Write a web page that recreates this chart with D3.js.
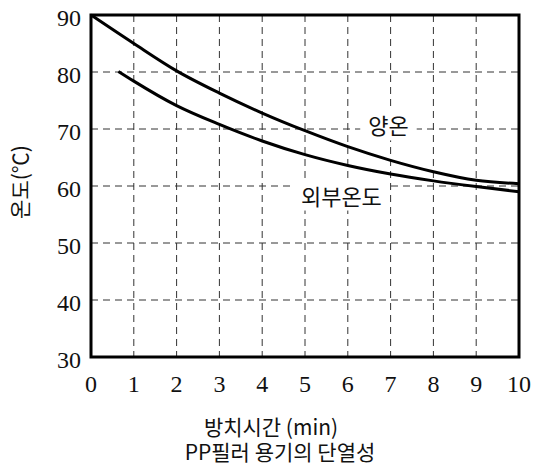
<!DOCTYPE html>
<html>
<head>
<meta charset="utf-8">
<script src="https://cdn.jsdelivr.net/npm/d3@7"></script>
<style>
  body { margin: 0; background: #fff; }
  .chart__line { fill: none; stroke: #000; stroke-width: 3px; }
  .chart__line--grid { stroke: #333; stroke-width: 1px; stroke-dasharray: 7 5; }
  .chart__frame { fill: none; stroke: #000; stroke-width: 3px; }
  .chart__tick { font-family: "Liberation Serif", "DejaVu Serif", serif; font-size: 24px; fill: #111; }
</style>
</head>
<body>
<div id="chart"></div>
<script>
// Time axis (min)
const xTicks = [0, 1, 2, 3, 4, 5, 6, 7, 8, 9, 10];
// Temperature axis (℃)
const yTicks = [30, 40, 50, 60, 70, 80, 90];

// 양온 curve
const innerTime = [0, 1, 2, 3, 4, 5, 6, 7, 8, 9, 10];
const innerTemp = [90, 85.0, 80.2, 76.3, 72.8, 69.7, 66.9, 64.5, 62.5, 61.0, 60.4];

// 외부온도 curve
const outerTime = [0.64, 1, 2, 3, 4, 5, 6, 7, 8, 9, 10];
const outerTemp = [80.1, 78.4, 74.1, 70.8, 67.9, 65.5, 63.6, 62.1, 60.9, 59.9, 59.0];

// Texts
const curveLabels = [
  { text: "양온", x: 6.95, y: 70.4 },
  { text: "외부온도", x: 5.85, y: 58.1 }
];
const xTitle = "방치시간 (min)";
const caption = "PP필러 용기의 단열성";
const yTitle = "온도(℃)";

const korean = "Noto Sans CJK KR";

/**
 * Dimensions
 */
const w = 542, h = 473;
const margin = { top: 15, right: 23, bottom: 116, left: 91 };
const width = w - margin.left - margin.right;
const height = h - margin.top - margin.bottom;

const svg = d3.select("#chart")
  .append("svg")
  .attr("width", w)
  .attr("height", h);

const g = svg.append("g")
  .attr("transform", "translate(" + margin.left + "," + margin.top + ")");

// Scales
const x = d3.scaleLinear().domain([0, 10]).range([0, width]);
const y = d3.scaleLinear().domain([30, 90]).range([height, 0]);

// Grid lines
g.selectAll(".grid-x")
  .data(xTicks.slice(1, -1))
  .enter()
  .append("line")
  .attr("class", "chart__line--grid")
  .attr("x1", d => x(d)).attr("x2", d => x(d))
  .attr("y1", 0).attr("y2", height);

g.selectAll(".grid-y")
  .data(yTicks.slice(1, -1))
  .enter()
  .append("line")
  .attr("class", "chart__line--grid")
  .attr("x1", 0).attr("x2", width)
  .attr("y1", d => y(d)).attr("y2", d => y(d));

// Tick labels, drawn from the scales
g.selectAll(".tick-x")
  .data(xTicks)
  .enter()
  .append("text")
  .attr("class", "chart__tick")
  .attr("text-anchor", "middle")
  .attr("x", d => x(d))
  .attr("y", height + 35)
  .text(d => d);

g.selectAll(".tick-y")
  .data(yTicks)
  .enter()
  .append("text")
  .attr("class", "chart__tick")
  .attr("text-anchor", "end")
  .attr("x", -10)
  .attr("y", d => y(d))
  .attr("dy", "0.46em")
  .text(d => d);

// Curve labels with white backing to break the grid
const labels = g.selectAll(".curve-label")
  .data(curveLabels)
  .enter()
  .append("g")
  .attr("transform", d => "translate(" + x(d.x) + "," + y(d.y) + ")");

labels.append("text")
  .attr("font-family", korean)
  .attr("font-size", 22)
  .attr("fill", "#111")
  .attr("text-anchor", "middle")
  .attr("dy", "0.35em")
  .text(d => d.text)
  .each(function () {
    const b = this.getBBox();
    d3.select(this.parentNode).insert("rect", "text")
      .attr("x", b.x - 8).attr("y", b.y)
      .attr("width", b.width + 16).attr("height", b.height)
      .attr("fill", "#fff");
  });

// Curves
const line = d3.line()
  .x(d => x(d[0]))
  .y(d => y(d[1]))
  .curve(d3.curveMonotoneX);

g.append("path")
  .attr("class", "chart__line")
  .attr("d", line(d3.zip(innerTime, innerTemp)));

g.append("path")
  .attr("class", "chart__line")
  .attr("d", line(d3.zip(outerTime, outerTemp)));

// Frame
g.append("rect")
  .attr("class", "chart__frame")
  .attr("width", width)
  .attr("height", height);

// Axis titles
const titles = [
  { text: xTitle, x: 271, y: 435, size: 21, rotate: 0 },
  { text: caption, x: 280, y: 460, size: 21, rotate: 0 },
  { text: yTitle, x: 28, y: 182, size: 21, rotate: -90 }
];

svg.selectAll(".chart__title")
  .data(titles)
  .enter()
  .append("text")
  .attr("class", "chart__title")
  .attr("font-family", korean)
  .attr("font-size", d => d.size)
  .attr("fill", "#111")
  .attr("text-anchor", "middle")
  .attr("transform", d => "translate(" + d.x + "," + d.y + ") rotate(" + d.rotate + ")")
  .text(d => d.text);
</script>
</body>
</html>
